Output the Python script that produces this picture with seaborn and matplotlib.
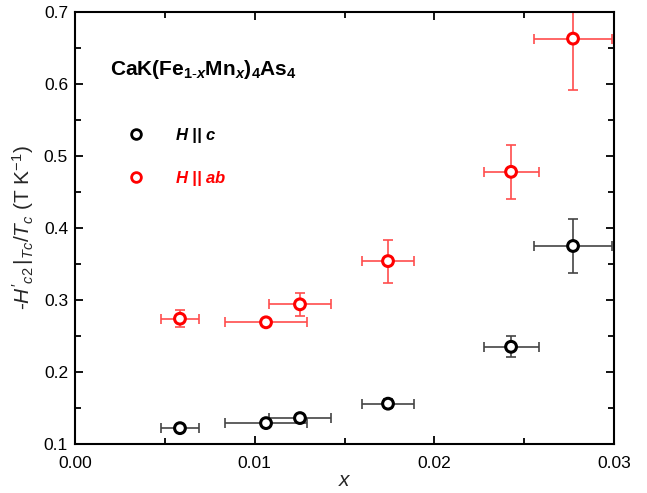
import matplotlib
matplotlib.use("Agg")
import matplotlib.pyplot as plt
import seaborn as sns
import numpy as np
import pandas as pd
from matplotlib.lines import Line2D
from matplotlib.ticker import MultipleLocator

sns.set_theme(style="ticks")
plt.rcParams['font.family'] = ['Liberation Sans', 'DejaVu Sans']
plt.rcParams['mathtext.fontset'] = 'custom'
plt.rcParams['mathtext.rm'] = 'Liberation Sans'
plt.rcParams['mathtext.it'] = 'Liberation Sans:italic'
plt.rcParams['mathtext.bf'] = 'Liberation Sans:bold'
plt.rcParams['mathtext.bfit'] = 'Liberation Sans:italic:bold'

# Data
x_vals = [0.00584, 0.01063, 0.01252, 0.01742, 0.02427, 0.02772]
x_err = [0.00106, 0.00228, 0.00173, 0.00142, 0.00153, 0.00217]
y_c = [0.122, 0.129, 0.136, 0.156, 0.235, 0.375]
y_c_err = [0.003, 0.004, 0.004, 0.006, 0.0146, 0.038]
y_ab = [0.274, 0.269, 0.294, 0.354, 0.478, 0.663]
y_ab_err = [0.012, 0.005, 0.016, 0.030, 0.0375, 0.071]
series = ["H || c", "H || ab"]
colors = {"H || c": "black", "H || ab": "red"}
ecolors = {"H || c": "#444444", "H || ab": "#ff4d4d"}

df = pd.DataFrame({
    "x": x_vals * 2,
    "y": y_c + y_ab,
    "xerr": x_err * 2,
    "yerr": y_c_err + y_ab_err,
    "series": [series[0]] * 6 + [series[1]] * 6,
})

fig = plt.figure(figsize=(6.47, 4.93), dpi=100)
ax = fig.add_axes([0.116, 0.0994, 0.833, 0.8763])

for s in series:
    d = df[df.series == s]
    ax.errorbar(d.x, d.y, xerr=d.xerr, yerr=d.yerr, fmt="none",
                ecolor=ecolors[s], elinewidth=1.2, capsize=3.5, capthick=1.2, zorder=2)

sns.scatterplot(data=df, x="x", y="y", hue="series", palette=colors, ax=ax,
                marker="o", s=60, facecolor="white", linewidth=2.2, legend=False, zorder=3)
coll = ax.collections[-1]
edge = [colors[s] for s in df.series]
coll.set_edgecolors(edge)
coll.set_facecolors("white")

ax.set_xlim(0, 0.03)
ax.set_ylim(0.1, 0.7)
ax.xaxis.set_major_locator(MultipleLocator(0.01))
ax.xaxis.set_minor_locator(MultipleLocator(0.005))
ax.yaxis.set_major_locator(MultipleLocator(0.1))
ax.yaxis.set_minor_locator(MultipleLocator(0.05))
ax.xaxis.set_major_formatter(matplotlib.ticker.FormatStrFormatter("%.2f"))
ax.yaxis.set_major_formatter(matplotlib.ticker.FormatStrFormatter("%.1f"))
ax.tick_params(which="both", direction="in", top=True, right=True, width=1.3,
               labelsize=12.5, colors="black", pad=5)
ax.tick_params(axis="x", which="both", pad=9)
ax.tick_params(which="major", length=6)
ax.tick_params(which="minor", length=4)
for sp in ax.spines.values():
    sp.set_linewidth(1.5)
    sp.set_color("black")

ax.set_xlabel(r"$x$", fontsize=15, labelpad=0)
ax.set_ylabel(r"-$H'_{c2}\,|_{Tc}/T_c$ (T K$^{-1}$)", fontsize=15, labelpad=6)

ax.text(0.064, 0.866, r"$\mathbf{CaK(Fe}_{\mathbf{1\text{-}}\mathbfit{x}}\mathbf{Mn}_{\mathbfit{x}}\mathbf{)}_{\mathbf{4}}\mathbf{As}_{\mathbf{4}}$",
        transform=ax.transAxes, fontsize=15, color="black", va="center")

handles = [Line2D([], [], marker="o", linestyle="none", markerfacecolor="white",
                  markeredgecolor=colors[s], markeredgewidth=2, markersize=7) for s in series]
labels = [r"$\mathbfit{H}$ || $\mathbfit{c}$", r"$\mathbfit{H}$ || $\mathbfit{ab}$"]
leg = ax.legend(handles, labels, loc="upper left", bbox_to_anchor=(0.093, 0.751),
                frameon=False, handletextpad=2.1, labelspacing=1.4,
                borderaxespad=0, handlelength=0.5,
                prop={"weight": "bold", "style": "italic", "size": 12})
for t, s in zip(leg.get_texts(), series):
    t.set_color(colors[s])

fig.savefig("out.png", dpi=100)
